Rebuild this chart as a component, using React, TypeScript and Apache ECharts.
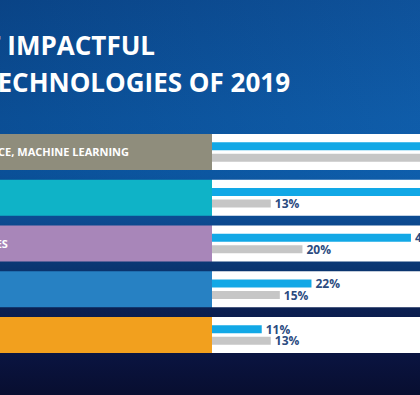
import React, { useEffect, useRef } from "react";
import * as echarts from "echarts";

const categories = [
  "ARTIFICIAL INTELLIGENCE, MACHINE LEARNING",
  "CLOUD COMPUTING",
  "AUTONOMOUS VEHICLES",
  "5G",
  "INTERNET OF THINGS",
];
const seriesBlue = [55, 50, 44, 22, 11];
const seriesGray = [48, 13, 20, 15, 13];
const titleLines = ["MOST IMPACTFUL", "TECHNOLOGIES OF 2019"];

const rowColors = ["#8f8d7c", "#0fb3c7", "#a886b9", "#2781c3", "#f2a01e"];
const FONT = "'Open Sans', 'Noto Sans', sans-serif";

export default function App() {
  const ref = useRef<HTMLDivElement>(null);
  useEffect(() => {
    document.body.style.margin = "0";
    const chart = echarts.init(ref.current!, null, { renderer: "svg" });
    const rowH = 36;
    chart.setOption({
      animation: false,
      graphic: [
        {
          type: "rect",
          z: -10,
          silent: true,
          shape: { x: 0, y: 0, width: 420, height: 395 },
          style: {
            fill: new echarts.graphic.LinearGradient(0, 0, 0, 1, [
              { offset: 0, color: "#0b4a90" },
              { offset: 0.3, color: "#0c56a1" },
              { offset: 0.44, color: "#0b58a4" },
              { offset: 0.56, color: "#0c4a90" },
              { offset: 0.68, color: "#0a3570" },
              { offset: 0.79, color: "#0b1f50" },
              { offset: 0.9, color: "#0a1440" },
              { offset: 1, color: "#080e30" },
            ]),
          },
        },
        {
          type: "rect",
          z: -9,
          silent: true,
          shape: { x: 0, y: 0, width: 420, height: 200 },
          style: {
            fill: new echarts.graphic.LinearGradient(0, 0, 1, 0, [
              { offset: 0, color: "rgba(0,20,60,0.12)" },
              { offset: 1, color: "rgba(40,140,230,0.12)" },
            ]),
          },
        },
        {
          type: "text",
          z: 10,
          x: 155,
          y: 45,
          style: {
            text: titleLines[0],
            fill: "#ffffff",
            font: `bold 26px ${FONT}`,
            align: "right",
            verticalAlign: "middle",
          },
        },
        {
          type: "text",
          z: 10,
          x: 290,
          y: 82,
          style: {
            text: titleLines[1],
            fill: "#ffffff",
            font: `bold 26px ${FONT}`,
            align: "right",
            verticalAlign: "middle",
          },
        },
      ],
      grid: {
        left: 212,
        right: 0,
        top: 129,
        height: 229,
        containLabel: false,
        outerBoundsMode: "none",
      },
      xAxis: { type: "value", min: 0, max: 46, show: false },
      yAxis: {
        type: "category",
        data: categories,
        inverse: true,
        z: 1,
        axisLine: { show: false },
        axisTick: { show: false },
        splitLine: { show: false },
        axisLabel: {
          align: "left",
          margin: 340,
          color: "#ffffff",
          fontWeight: "bold",
          fontSize: 11,
          fontFamily: FONT,
          hideOverlap: false,
        },
      },
      series: [
        {
          type: "custom",
          z: -5,
          silent: true,
          data: categories.map((_, i) => [0, i]),
          encode: { x: 0, y: 1 },
          renderItem: (params: any, api: any) => {
            const idx = api.value(1);
            const pt = api.coord([0, idx]);
            const cs = params.coordSys;
            const yTop = pt[1] - rowH / 2;
            return {
              type: "group",
              children: [
                {
                  type: "rect",
                  shape: { x: -10, y: yTop, width: cs.x + 10, height: rowH },
                  style: { fill: rowColors[idx] },
                },
                {
                  type: "rect",
                  shape: { x: cs.x, y: yTop, width: cs.width + 20, height: rowH },
                  style: { fill: "#ffffff" },
                },
              ],
            };
          },
        },
        {
          type: "bar",
          data: seriesBlue,
          barWidth: 8,
          barGap: "44%",
          itemStyle: { color: "#12a8e6" },
          label: {
            show: true,
            position: "right",
            distance: 4,
            formatter: "{c}%",
            color: "#2b4b7f",
            fontWeight: "bold",
            fontSize: 12,
            fontFamily: FONT,
          },
        },
        {
          type: "bar",
          data: seriesGray,
          barWidth: 8,
          barGap: "44%",
          itemStyle: { color: "#c6c6c6" },
          label: {
            show: true,
            position: "right",
            distance: 4,
            formatter: "{c}%",
            color: "#2b4b7f",
            fontWeight: "bold",
            fontSize: 12,
            fontFamily: FONT,
          },
        },
      ],
    });
    return () => chart.dispose();
  }, []);
  return (
    <div
      ref={ref}
      style={{ position: "absolute", left: 0, top: 0, width: 420, height: 395 }}
    />
  );
}
